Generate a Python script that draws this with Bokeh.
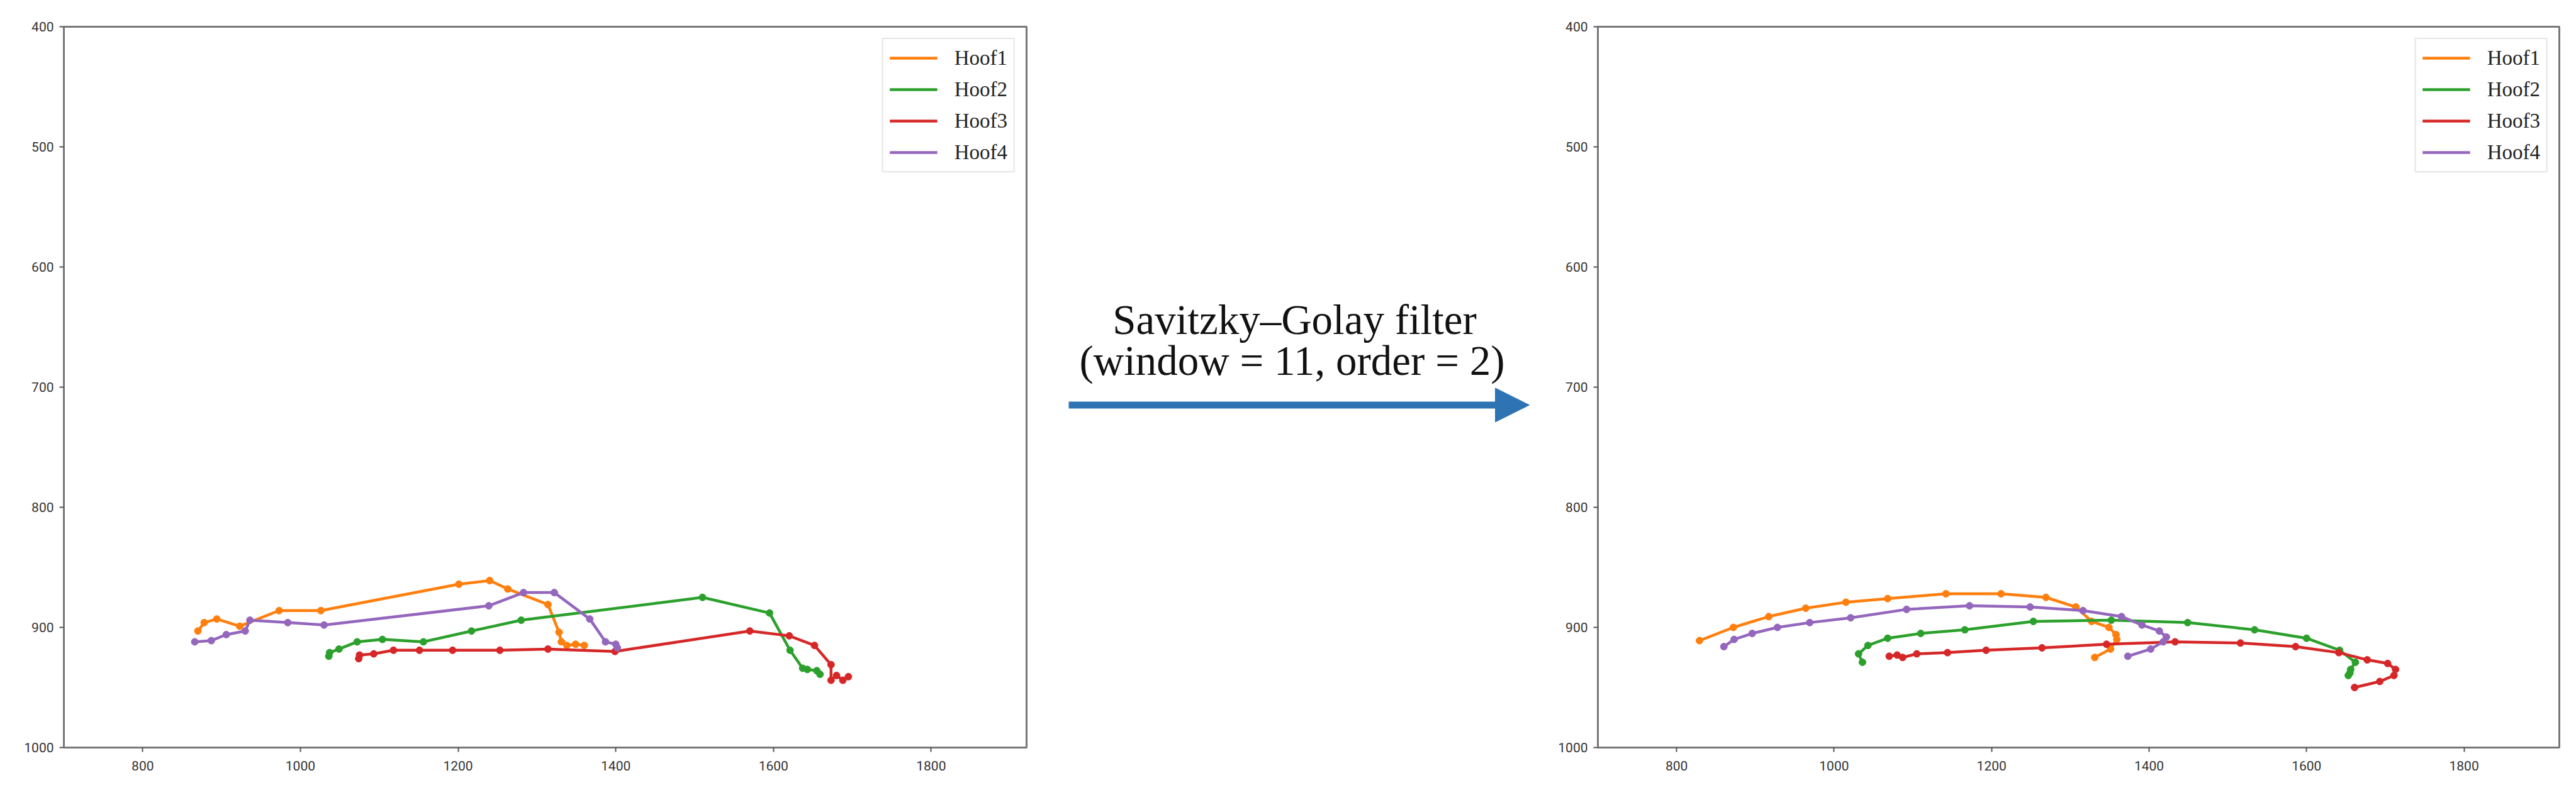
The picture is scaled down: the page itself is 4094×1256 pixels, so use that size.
from bokeh.plotting import figure
from bokeh.layouts import row
from bokeh.models import Range1d, FixedTicker, Arrow, NormalHead, Legend
from bokeh.core.properties import value
from bokeh.embed import file_html
from bokeh.resources import INLINE

# ---------------- data ----------------
series_names = ["Hoof1", "Hoof2", "Hoof3", "Hoof4"]
series_colors = ["#ff7f0e", "#2ca02c", "#d62728", "#9467bd"]

# raw trajectories (left panel)
hoof1_raw_x = [870, 878, 894, 923, 973, 1026, 1201, 1240, 1263, 1314, 1328, 1331, 1338, 1349, 1360]
hoof1_raw_y = [903, 896, 893, 899, 886, 886, 864, 861, 868, 881, 904, 912, 915, 914, 915]
hoof2_raw_x = [1036, 1037, 1049, 1072, 1104, 1156, 1217, 1280, 1510, 1595, 1621, 1637, 1643, 1655, 1659]
hoof2_raw_y = [924, 921, 918, 912, 910, 912, 903, 894, 875, 888, 919, 934, 935, 936, 939]
hoof3_raw_x = [1074, 1075, 1093, 1118, 1151, 1193, 1253, 1314, 1399, 1570, 1620, 1652, 1673, 1673, 1680, 1688, 1695]
hoof3_raw_y = [926, 923, 922, 919, 919, 919, 919, 918, 920, 903, 907, 915, 931, 944, 940, 944, 941]
hoof4_raw_x = [866, 887, 906, 930, 936, 984, 1030, 1239, 1283, 1322, 1367, 1387, 1400, 1402]
hoof4_raw_y = [912, 911, 906, 903, 894, 896, 898, 882, 871, 871, 893, 912, 914, 917]

# smoothed trajectories (right panel)
hoof1_sg_x = [829, 872, 917, 964, 1015, 1068, 1142, 1212, 1269, 1307, 1327, 1349, 1358, 1359, 1351, 1331]
hoof1_sg_y = [911, 900, 891, 884, 879, 876, 872, 872, 875, 883, 895, 900, 906, 910, 918, 925]
hoof2_sg_x = [1036, 1031, 1043, 1068, 1110, 1166, 1253, 1352, 1449, 1534, 1600, 1642, 1662, 1656, 1653, 1655]
hoof2_sg_y = [929, 922, 915, 909, 905, 902, 895, 894, 896, 902, 909, 919, 929, 935, 940, 938]
hoof3_sg_x = [1070, 1080, 1087, 1105, 1144, 1193, 1264, 1346, 1433, 1516, 1586, 1641, 1677, 1703, 1713, 1711, 1693, 1661]
hoof3_sg_y = [924, 923, 925, 922, 921, 919, 917, 914, 912, 913, 916, 921, 927, 930, 935, 940, 945, 950]
hoof4_sg_x = [860, 873, 896, 928, 969, 1021, 1092, 1172, 1249, 1316, 1365, 1391, 1413, 1422, 1418, 1402, 1373]
hoof4_sg_y = [916, 910, 905, 900, 896, 892, 885, 882, 883, 886, 891, 898, 903, 908, 912, 918, 924]

x_ticks = [800, 1000, 1200, 1400, 1600, 1800]
y_ticks = [400, 500, 600, 700, 800, 900, 1000]
x_limits = (700, 1921)
y_limits = (1000, 400)  # inverted image coordinates

caption_line1 = "Savitzky\u2013Golay filter"
caption_line2 = "(window = 11, order = 2)"

raw_sets = [(hoof1_raw_x, hoof1_raw_y), (hoof2_raw_x, hoof2_raw_y),
            (hoof3_raw_x, hoof3_raw_y), (hoof4_raw_x, hoof4_raw_y)]
sg_sets = [(hoof1_sg_x, hoof1_sg_y), (hoof2_sg_x, hoof2_sg_y),
           (hoof3_sg_x, hoof3_sg_y), (hoof4_sg_x, hoof4_sg_y)]

FIG_H = 1248
TICK_FONT = "Roboto"
SERIF = "Liberation Serif"


def make_panel(sets, width, border_left):
    p = figure(width=width, height=FIG_H, output_backend="svg", toolbar_location=None,
               x_range=Range1d(*x_limits), y_range=Range1d(*y_limits),
               min_border_left=border_left, min_border_right=10,
               min_border_top=42, min_border_bottom=60)
    p.grid.visible = False
    p.outline_line_color = "#777777"
    p.outline_line_width = 3
    p.background_fill_color = "white"
    p.border_fill_color = "white"
    for ax in (p.xaxis, p.yaxis):
        ax.axis_line_color = "#777777"
        ax.axis_line_width = 3
        ax.major_tick_line_color = "#555555"
        ax.major_tick_line_width = 2
        ax.major_tick_out = 7
        ax.major_tick_in = 0
        ax.minor_tick_line_color = None
        ax.major_label_text_font = TICK_FONT
        ax.major_label_text_font_size = "21px"
        ax.major_label_text_color = "#333333"
    p.xaxis.ticker = FixedTicker(ticks=x_ticks)
    p.yaxis.ticker = FixedTicker(ticks=y_ticks)
    p.xaxis.major_label_standoff = 14
    p.yaxis.major_label_standoff = 9

    items = []
    for (xs, ys), name, col in zip(sets, series_names, series_colors):
        ln = p.line(xs, ys, line_color=col, line_width=4.5)
        p.scatter(xs, ys, marker="circle", size=11, fill_color=col, line_color=col)
        items.append((name, [ln]))
    leg = Legend(items=items, location="top_right")
    leg.margin = 18
    leg.padding = 10
    leg.spacing = 10
    leg.label_height = 40
    leg.glyph_height = 40
    leg.glyph_width = 76
    leg.label_standoff = 27
    leg.label_text_font = SERIF
    leg.label_text_font_size = "33px"
    leg.label_text_color = "#222222"
    leg.border_line_color = "#cccccc"
    leg.border_line_width = 2
    leg.background_fill_color = "white"
    leg.background_fill_alpha = 1.0
    p.add_layout(leg, "center")
    return p


left = make_panel(raw_sets, 101 + 1530 + 10, 101)   # page x 0 .. 1641
right = make_panel(sg_sets, 93 + 1528 + 10, 93)     # page x 2446 .. 4077

# middle panel: caption and arrow, in page-pixel coordinates (no axes, no title)
mid = figure(width=805, height=FIG_H, output_backend="svg", toolbar_location=None,
             title=None, x_axis_location=None, y_axis_location=None,
             x_range=Range1d(1641, 2446), y_range=Range1d(FIG_H, 0),
             min_border=0, min_border_left=0, min_border_right=0,
             min_border_top=0, min_border_bottom=0)
mid.grid.visible = False
mid.outline_line_color = None
mid.background_fill_color = "white"
mid.border_fill_color = "white"
mid.text(x=[2057], y=[507], text=[caption_line1], text_font=value(SERIF),
         text_font_size=value("67px"), text_align="center", text_baseline="alphabetic",
         text_color="#111111")
mid.text(x=[2053], y=[578], text=[caption_line2], text_font=value(SERIF),
         text_font_size=value("67px"), text_align="center", text_baseline="alphabetic",
         text_color="#111111")
arrow_color = "#2E74B5"
mid.add_layout(Arrow(end=NormalHead(size=54, fill_color=arrow_color, line_color=arrow_color),
                     x_start=1698, y_start=655, x_end=2430, y_end=655,
                     line_color=arrow_color, line_width=11))

layout = row(left, mid, right)
open("out.html", "w").write(file_html(layout, INLINE))
